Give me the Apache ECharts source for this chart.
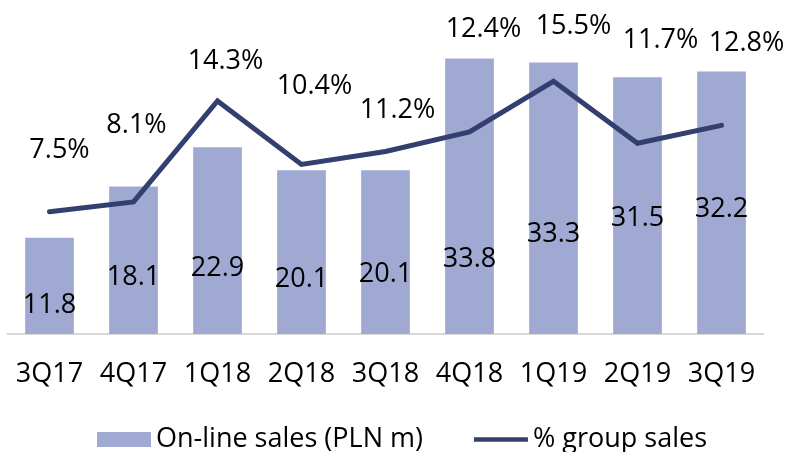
<!DOCTYPE html>
<html>
<head>
<meta charset="utf-8">
<script src="https://cdn.jsdelivr.net/npm/echarts@6/dist/echarts.min.js"></script>
<style>
  html, body { margin: 0; padding: 0; background: #fff; }
  #chart { width: 788px; height: 452px; }
</style>
</head>
<body>
<div id="chart"></div>
<script>
// Quarterly on-line sales and share of group sales
const quarters = ['3Q17', '4Q17', '1Q18', '2Q18', '3Q18', '4Q18', '1Q19', '2Q19', '3Q19'];
const onlineSales = [11.8, 18.1, 22.9, 20.1, 20.1, 33.8, 33.3, 31.5, 32.2];
const groupShare = [7.5, 8.1, 14.3, 10.4, 11.2, 12.4, 15.5, 11.7, 12.8];

// Hand-placed label nudges (pixels) so labels sit clear of the line
const barLabelShift = [19, 17, 28, 27, 22, 63, 36, 13, 7];
const shareLabelShift = [[10, -61], [3, -77], [8, -40], [13, -78], [12, -41], [14, -103], [20, -55], [23, -103], [25, -82]];

const FONT = '"Open Sans", "Noto Sans", sans-serif';
const FS = 27;
const TEXT = '#000000';
const BAR = '#a0a9d2';
const LINE = '#333f6e';

const chart = echarts.init(document.getElementById('chart'), null, { renderer: 'canvas' });

chart.setOption({
  animation: false,
  grid: { left: 7.5, right: 24.5, top: 8, bottom: 118, containLabel: false },
  legend: {
    bottom: -6,
    left: 92,
    itemWidth: 54,
    itemHeight: 15,
    itemGap: 51,
    textStyle: { fontFamily: FONT, fontSize: FS, color: TEXT },
    data: [
      { name: 'On-line sales (PLN m)', icon: 'rect', itemStyle: { color: BAR } },
      { name: '% group sales', icon: 'path://M0,0 L56,0 L56,4.5 L0,4.5 Z', itemStyle: { color: LINE } }
    ]
  },
  xAxis: {
    type: 'category',
    data: quarters,
    axisLine: { lineStyle: { color: '#d9d9d9', width: 2 } },
    axisTick: { show: false },
    axisLabel: { interval: 0, fontFamily: FONT, fontSize: FS, color: TEXT, margin: 27 }
  },
  yAxis: [
    { type: 'value', min: 0, max: 40, show: false, splitLine: { show: false } },
    { type: 'value', min: 0, max: 20, show: false, splitLine: { show: false } }
  ],
  series: [
    {
      name: 'On-line sales (PLN m)',
      type: 'bar',
      barWidth: '58%',
      itemStyle: { color: BAR },
      data: onlineSales.map((v, i) => ({
        value: v,
        label: { offset: [0, barLabelShift[i]] }
      })),
      label: {
        show: true,
        position: 'inside',
        fontFamily: FONT,
        fontSize: FS,
        color: TEXT,
        formatter: p => p.value.toFixed(1)
      },
      z: 1
    },
    {
      name: '% group sales',
      type: 'line',
      yAxisIndex: 1,
      symbol: 'circle',
      symbolSize: 0.01,
      showSymbol: true,
      lineStyle: { color: LINE, width: 5, cap: 'round', join: 'miter' },
      itemStyle: { color: LINE },
      data: groupShare.map((v, i) => ({
        value: v,
        label: { offset: shareLabelShift[i] }
      })),
      label: {
        show: true,
        position: 'inside',
        fontFamily: FONT,
        fontSize: FS,
        color: TEXT,
        formatter: p => p.value.toFixed(1) + '%'
      },
      z: 2
    }
  ]
});
</script>
</body>
</html>
